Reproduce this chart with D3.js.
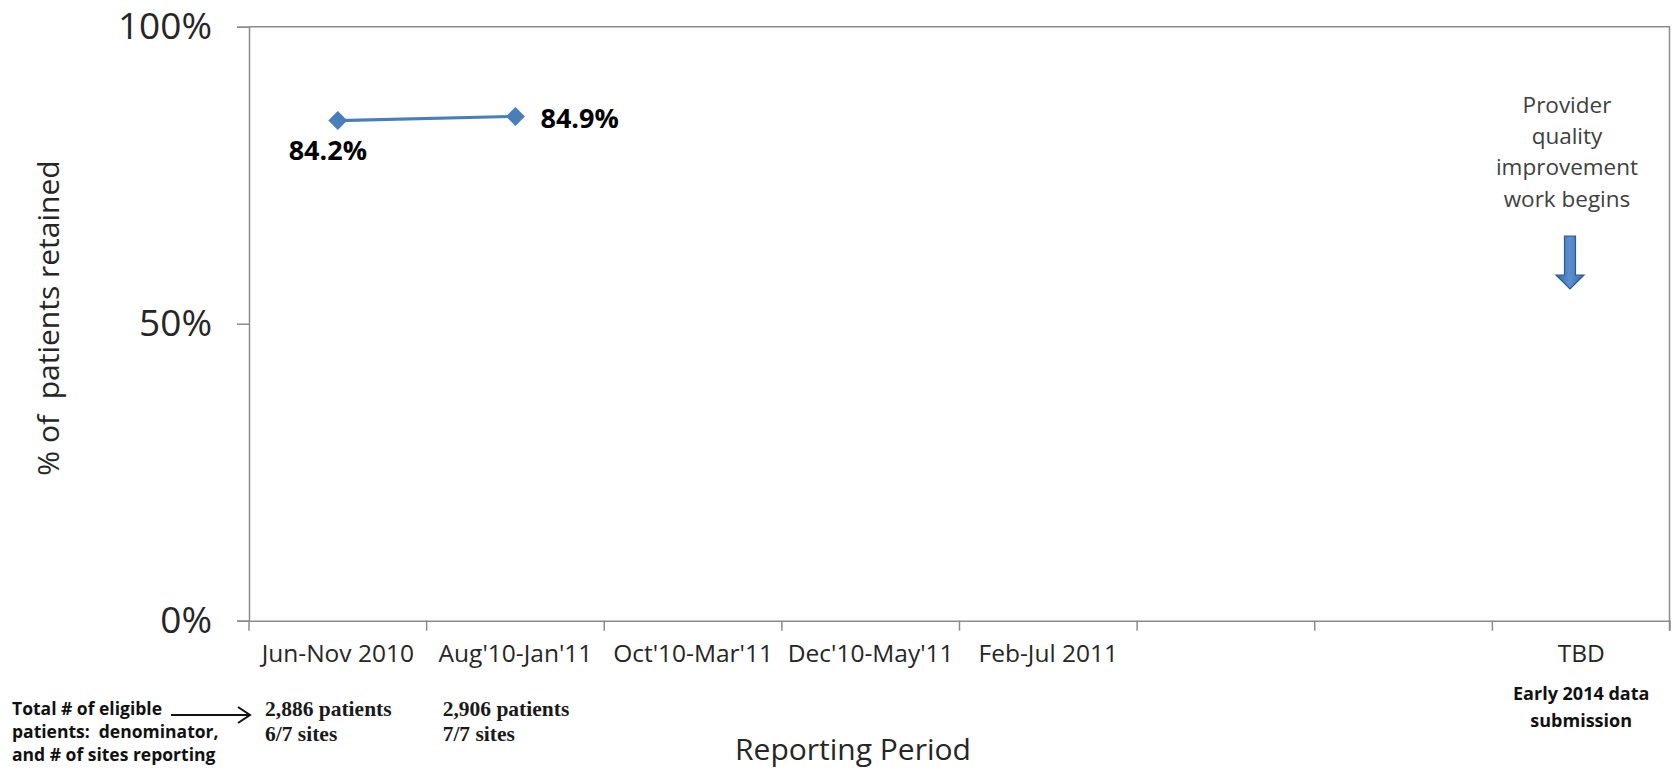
<!DOCTYPE html>
<html>
<head>
<meta charset="utf-8">
<script src="https://cdn.jsdelivr.net/npm/d3@7"></script>
<style>
  html, body { margin: 0; padding: 0; background: #ffffff; }
  svg { display: block; }
  text { font-family: "Open Sans", sans-serif; }
</style>
</head>
<body>
<svg id="chart" width="1672" height="770"></svg>
<script>
// Reporting periods along the x axis (blank slots are future periods)
const periods = ["Jun-Nov 2010", "Aug'10-Jan'11", "Oct'10-Mar'11", "Dec'10-May'11", "Feb-Jul 2011", "", "", "TBD"];
// Share of patients retained for the periods reported so far
const retained = [0.842, 0.849];
// Denominator notes printed under each reported period
const patientCounts = ["2,886 patients", "2,906 patients"];
const sitesReporting = ["6/7 sites", "7/7 sites"];
// Y axis ticks
const yTicks = [0, 0.5, 1];
// Annotations
const noteLines = ["Total # of eligible", "patients:  denominator,", "and # of sites reporting"];
const tbdNote = ["Early 2014 data", "submission"];
const qiNote = ["Provider", "quality", "improvement", "work begins"];

const svg = d3.select("#chart");
const plotLeft = 249, plotRight = 1670, plotTop = 26.7, plotBottom = 620.7;
const axisGray = "#8c8c8c";

const x = d3.scaleBand().domain(d3.range(periods.length)).range([plotLeft, plotRight]).padding(0);
const y = d3.scaleLinear().domain([0, 1]).range([plotBottom, plotTop]);

// Y axis with ticks that stick out to the left
const yAxis = svg.append("g")
  .attr("transform", `translate(${plotLeft},0)`)
  .call(d3.axisLeft(y).tickValues(yTicks).tickFormat(d3.format(".0%")).tickSize(12).tickPadding(25));
yAxis.select(".domain").attr("stroke", axisGray).attr("stroke-width", 1.5);
yAxis.selectAll(".tick line").attr("stroke", axisGray).attr("stroke-width", 1.5);
yAxis.selectAll(".tick text")
  .attr("fill", "#262626")
  .style("font-size", "37px")
  .style("font-family", "'Open Sans', sans-serif");

// Frame: top and right edges of the plot area
svg.append("line").attr("x1", plotLeft).attr("x2", plotRight).attr("y1", y(1)).attr("y2", y(1))
  .attr("stroke", axisGray).attr("stroke-width", 1.5);
svg.append("line").attr("x1", plotRight - 0.5).attr("x2", plotRight - 0.5).attr("y1", y(1)).attr("y2", plotBottom + 10)
  .attr("stroke", axisGray).attr("stroke-width", 1.5);

// X axis: baseline, category labels, and tick marks between categories
const xAxis = svg.append("g")
  .attr("transform", `translate(0,${plotBottom})`)
  .call(d3.axisBottom(x).tickSize(0).tickPadding(24).tickFormat(i => periods[i]));
xAxis.select(".domain").attr("stroke", axisGray).attr("stroke-width", 1.5);
xAxis.selectAll(".tick text")
  .attr("fill", "#262626")
  .style("font-size", "24.5px")
  .style("font-family", "'Open Sans', sans-serif");

const boundaries = d3.range(periods.length + 1).map(i => i < periods.length ? x(i) : x(periods.length - 1) + x.bandwidth());
svg.append("g").selectAll("line").data(boundaries).join("line")
  .attr("x1", d => d).attr("x2", d => d)
  .attr("y1", plotBottom).attr("y2", plotBottom + 10)
  .attr("stroke", axisGray).attr("stroke-width", 1.5);

// Retention line with diamond markers
const cx = i => x(i) + x.bandwidth() / 2;
svg.append("path")
  .datum(retained)
  .attr("fill", "none")
  .attr("stroke", "#4a7ebb")
  .attr("stroke-width", 3.2)
  .attr("d", d3.line().x((d, i) => cx(i)).y(d => y(d)));

svg.append("g").selectAll("path").data(retained).join("path")
  .attr("transform", (d, i) => `translate(${cx(i)},${y(d)})`)
  .attr("d", "M0,-9.5L9.5,0L0,9.5L-9.5,0Z")
  .attr("fill", "#4a7ebb");

// Value labels
const fmtPct = d3.format(".1%");
const labelPos = [
  { dx: -10, dy: 29, anchor: "middle" },
  { dx: 25, dy: 1, anchor: "start" }
];
svg.append("g").selectAll("text").data(retained).join("text")
  .attr("x", (d, i) => cx(i) + labelPos[i].dx)
  .attr("y", (d, i) => y(d) + labelPos[i].dy)
  .attr("text-anchor", (d, i) => labelPos[i].anchor)
  .attr("dominant-baseline", "central")
  .attr("fill", "#000")
  .style("font-size", "27px")
  .style("font-weight", "bold")
  .text(d => fmtPct(d));

// Axis titles
svg.append("text")
  .attr("transform", "translate(47,318) rotate(-90)")
  .attr("text-anchor", "middle")
  .attr("dominant-baseline", "central")
  .attr("fill", "#262626")
  .style("font-size", "30px")
  .style("white-space", "pre")
  .text("% of  patients retained");

svg.append("text")
  .attr("x", 853).attr("y", 760)
  .attr("text-anchor", "middle")
  .attr("fill", "#262626")
  .style("font-size", "30px")
  .text("Reporting Period");

// Denominator notes below the x axis
const denomG = svg.append("g");
patientCounts.forEach((p, i) => {
  const t = denomG.append("text")
    .attr("fill", "#1a1a1a")
    .style("font-family", "'Liberation Serif', serif")
    .style("font-weight", "bold")
    .style("font-size", "21.5px");
  t.append("tspan").attr("x", x(i) + 16).attr("y", 716).text(p);
  t.append("tspan").attr("x", x(i) + 16).attr("y", 741).text(sitesReporting[i]);
});

// Left-hand explanation with arrow pointing to the counts
const noteG = svg.append("g");
noteLines.forEach((s, i) => {
  noteG.append("text")
    .attr("x", 12).attr("y", 715 + i * 23)
    .attr("fill", "#111")
    .style("font-size", "17.5px")
    .style("font-weight", "bold")
    .style("white-space", "pre")
    .text(s);
});
noteG.append("line").attr("x1", 171).attr("x2", 250).attr("y1", 715).attr("y2", 715)
  .attr("stroke", "#111").attr("stroke-width", 2);
noteG.append("path").attr("d", "M238,707L250,715L238,723")
  .attr("fill", "none").attr("stroke", "#111").attr("stroke-width", 2);

// Note under the TBD period
const tbdX = cx(periods.length - 1);
tbdNote.forEach((s, i) => {
  svg.append("text")
    .attr("x", tbdX).attr("y", 693 + i * 27)
    .attr("text-anchor", "middle")
    .attr("dominant-baseline", "central")
    .attr("fill", "#111")
    .style("font-size", "18px")
    .style("font-weight", "bold")
    .text(s);
});

// Quality improvement annotation with a downward arrow
qiNote.forEach((s, i) => {
  svg.append("text")
    .attr("x", 1567).attr("y", 113 + i * 31.2)
    .attr("text-anchor", "middle")
    .attr("fill", "#404040")
    .style("font-size", "22.5px")
    .text(s);
});
const defs = svg.append("defs");
const grad = defs.append("linearGradient").attr("id", "arrowFill").attr("x1", "0").attr("x2", "1").attr("y1", "0").attr("y2", "0");
grad.append("stop").attr("offset", "0%").attr("stop-color", "#3b6ba5");
grad.append("stop").attr("offset", "50%").attr("stop-color", "#5b8fd0");
grad.append("stop").attr("offset", "100%").attr("stop-color", "#3b6ba5");
svg.append("path")
  .attr("d", "M1564.5,236L1575.5,236L1575.5,275L1584,275L1570,289L1556,275L1564.5,275Z")
  .attr("fill", "url(#arrowFill)")
  .attr("stroke", "#2f5a8c")
  .attr("stroke-width", 1.2);
</script>
</body>
</html>
